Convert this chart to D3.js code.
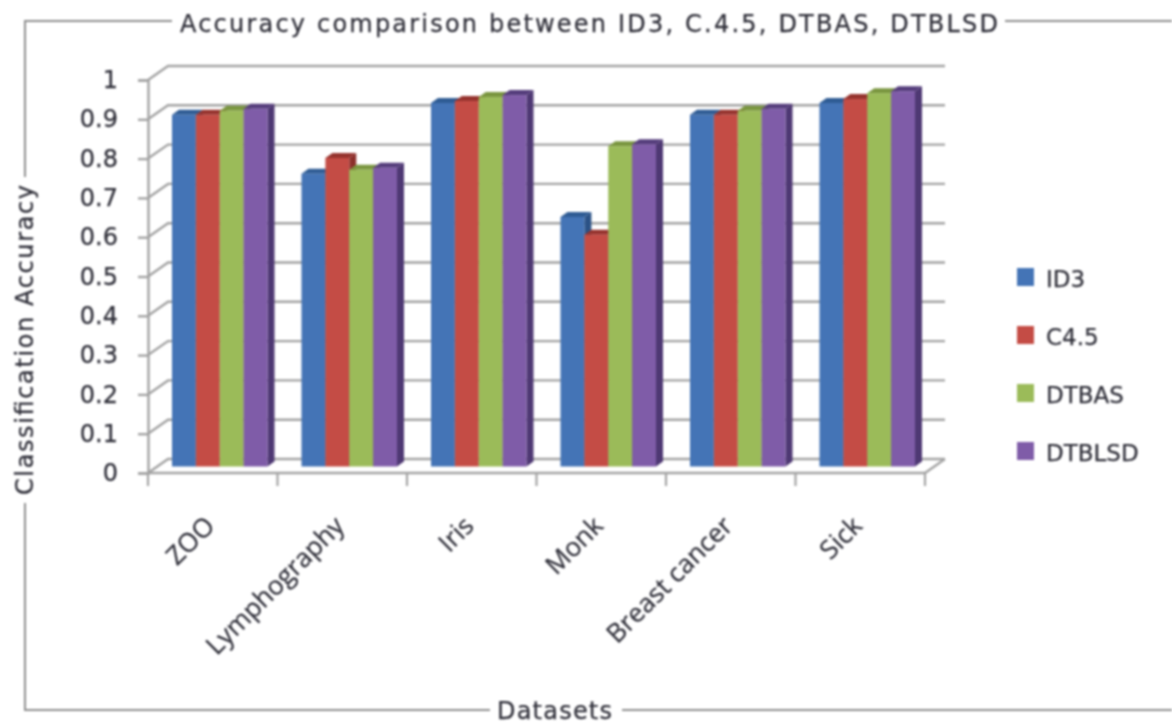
<!DOCTYPE html>
<html>
<head>
<meta charset="utf-8">
<script src="https://cdn.jsdelivr.net/npm/d3@7"></script>
<style>
  html, body { margin: 0; padding: 0; background: #fff; }
  svg { display: block; filter: blur(0.8px); }
  text { font-family: "DejaVu Sans", sans-serif; fill: #2e2e38; stroke: #2e2e38; stroke-width: 0.25px; }
</style>
</head>
<body>
<div id="chart"></div>
<script>
const categories = ["ZOO", "Lymphography", "Iris", "Monk", "Breast cancer", "Sick"]
const seriesNames = ["ID3", "C4.5", "DTBAS", "DTBLSD"]
const id3Values = [0.895, 0.745, 0.925, 0.635, 0.895, 0.925]
const c45Values = [0.895, 0.785, 0.93, 0.59, 0.895, 0.935]
const dtbasValues = [0.905, 0.755, 0.94, 0.815, 0.905, 0.95]
const dtblsdValues = [0.91, 0.76, 0.945, 0.82, 0.91, 0.955]
const yTicks = [0, 0.1, 0.2, 0.3, 0.4, 0.5, 0.6, 0.7, 0.8, 0.9, 1]

const seriesValues = [id3Values, c45Values, dtbasValues, dtblsdValues]
const frontColors = ["#4474b6", "#c44c45", "#9bbb59", "#7f5ca8"]
const sideColors = ["#2b5286", "#8c2f2b", "#6f8a3a", "#4e3873"]
const topColors = ["#2f5c94", "#96332e", "#7a963f", "#553d7c"]

const width = 1172
const height = 724
const gridColor = "#a3a3a3"

// 3D look: back wall offset from the axis, and the bars sit part way into the floor
const wallDx = 20
const wallDy = -14
const barInsetX = 7.5
const barInsetY = -6.5
const depthX = 7
const depthY = -5

const svg = d3.select("#chart").append("svg")
  .attr("width", width)
  .attr("height", height)

const xScale = d3.scaleBand()
  .domain(categories)
  .range([148, 925])

const seriesScale = d3.scaleBand()
  .domain(seriesNames)
  .range([16.5, xScale.bandwidth() - 17.5])

const yScale = d3.scaleLinear()
  .domain([0, 1])
  .range([473, 80])

const legendScale = d3.scalePoint()
  .domain(seriesNames)
  .range([277, 451])

// Outer frame, broken where the titles sit
const frame = d3.line()
svg.append("path")
  .attr("d", frame([[172, 21], [25, 21], [25, 177]]))
  .attr("fill", "none").attr("stroke", "#8f8f8f").attr("stroke-width", 2)
svg.append("path")
  .attr("d", frame([[25, 503], [25, 710], [490, 710]]))
  .attr("fill", "none").attr("stroke", "#8f8f8f").attr("stroke-width", 2)
svg.append("path")
  .attr("d", frame([[1005, 21], [1172, 21]]))
  .attr("fill", "none").attr("stroke", "#8f8f8f").attr("stroke-width", 2)
svg.append("path")
  .attr("d", frame([[622, 710], [1172, 710]]))
  .attr("fill", "none").attr("stroke", "#8f8f8f").attr("stroke-width", 2)

// Back wall gridlines with their slanted bit down to the axis
svg.append("g").selectAll("path")
  .data(yTicks)
  .join("path")
    .attr("d", d => frame([
      [xScale.range()[0], yScale(d)],
      [xScale.range()[0] + wallDx, yScale(d) + wallDy],
      [xScale.range()[1] + wallDx, yScale(d) + wallDy]
    ]))
    .attr("fill", "none")
    .attr("stroke", gridColor)
    .attr("stroke-width", 2.4)

// Floor right edge
svg.append("path")
  .attr("d", frame([
    [xScale.range()[1], yScale(0)],
    [xScale.range()[1] + wallDx, yScale(0) + wallDy]
  ]))
  .attr("fill", "none")
  .attr("stroke", gridColor)
  .attr("stroke-width", 2.4)

// y axis
const yAxis = d3.axisLeft(yScale)
  .tickValues(yTicks)
  .tickFormat(d => d3.format("")(d))
  .tickSize(10)
  .tickPadding(20)

const yAxisG = svg.append("g")
  .attr("transform", `translate(${xScale.range()[0]}, 0)`)
  .call(yAxis)
yAxisG.selectAll("line, path").attr("stroke", gridColor).attr("stroke-width", 2.4)
yAxisG.selectAll("text").attr("font-size", 24).attr("font-family", null)
yAxisG.attr("font-family", null)

// x axis: ticks are on the group boundaries so it is drawn by hand from the band scale
const xEdges = categories.map(c => xScale(c)).concat(xScale.range()[1])
svg.append("line")
  .attr("x1", xScale.range()[0]).attr("x2", xScale.range()[1])
  .attr("y1", yScale(0)).attr("y2", yScale(0))
  .attr("stroke", gridColor).attr("stroke-width", 2.4)
svg.append("g").selectAll("line")
  .data(xEdges)
  .join("line")
    .attr("x1", d => d).attr("x2", d => d)
    .attr("y1", yScale(0)).attr("y2", yScale(0) + 13)
    .attr("stroke", gridColor)
    .attr("stroke-width", 2.2)

// Bars
const groups = svg.append("g").selectAll("g")
  .data(categories)
  .join("g")
    .attr("transform", d => `translate(${xScale(d) + barInsetX}, ${barInsetY})`)

groups.each(function(category, i) {
  const group = d3.select(this)
  seriesNames.forEach((name, s) => {
    const x0 = seriesScale(name)
    const x1 = x0 + seriesScale.bandwidth()
    const yTop = yScale(seriesValues[s][i])
    const yBase = yScale(0)
    group.append("path")
      .attr("d", frame([[x1, yTop], [x1 + depthX, yTop + depthY], [x1 + depthX, yBase + depthY], [x1, yBase]]))
      .attr("fill", sideColors[s])
    group.append("path")
      .attr("d", frame([[x0, yTop], [x0 + depthX, yTop + depthY], [x1 + depthX, yTop + depthY], [x1, yTop]]))
      .attr("fill", topColors[s])
    group.append("rect")
      .attr("x", x0)
      .attr("y", yTop)
      .attr("width", seriesScale.bandwidth())
      .attr("height", yBase - yTop)
      .attr("fill", frontColors[s])
  })
})

// Category labels
svg.append("g").selectAll("text")
  .data(categories)
  .join("text")
    .attr("transform", d => `translate(${xScale(d) + xScale.bandwidth() / 2 - 3}, 521) rotate(-45)`)
    .attr("text-anchor", "end")
    .attr("font-size", 26)
    .attr("dy", "0.35em")
    .style("font-family", "'Open Sans', sans-serif")
    .text(d => d)

// Titles
svg.append("text")
  .attr("x", 180).attr("y", 32)
  .attr("font-size", 24)
  .attr("textLength", 818)
  .attr("lengthAdjust", "spacing")
  .text("Accuracy comparison between ID3, C.4.5, DTBAS, DTBLSD")

svg.append("text")
  .attr("transform", "translate(33, 495) rotate(-90)")
  .attr("font-size", 24)
  .attr("textLength", 310)
  .attr("lengthAdjust", "spacing")
  .text("Classification Accuracy")

svg.append("text")
  .attr("x", 497).attr("y", 719)
  .attr("font-size", 24)
  .attr("textLength", 115)
  .attr("lengthAdjust", "spacing")
  .text("Datasets")

// Legend
const legend = svg.append("g").selectAll("g")
  .data(seriesNames)
  .join("g")
    .attr("transform", d => `translate(1017, ${legendScale(d)})`)

legend.append("rect")
  .attr("x", 0).attr("y", -9)
  .attr("width", 17).attr("height", 18)
  .attr("fill", (d, i) => frontColors[i])

legend.append("text")
  .attr("x", 29).attr("y", 2)
  .attr("dy", "0.36em")
  .attr("font-size", 23)
  .text(d => d)
</script>
</body>
</html>
